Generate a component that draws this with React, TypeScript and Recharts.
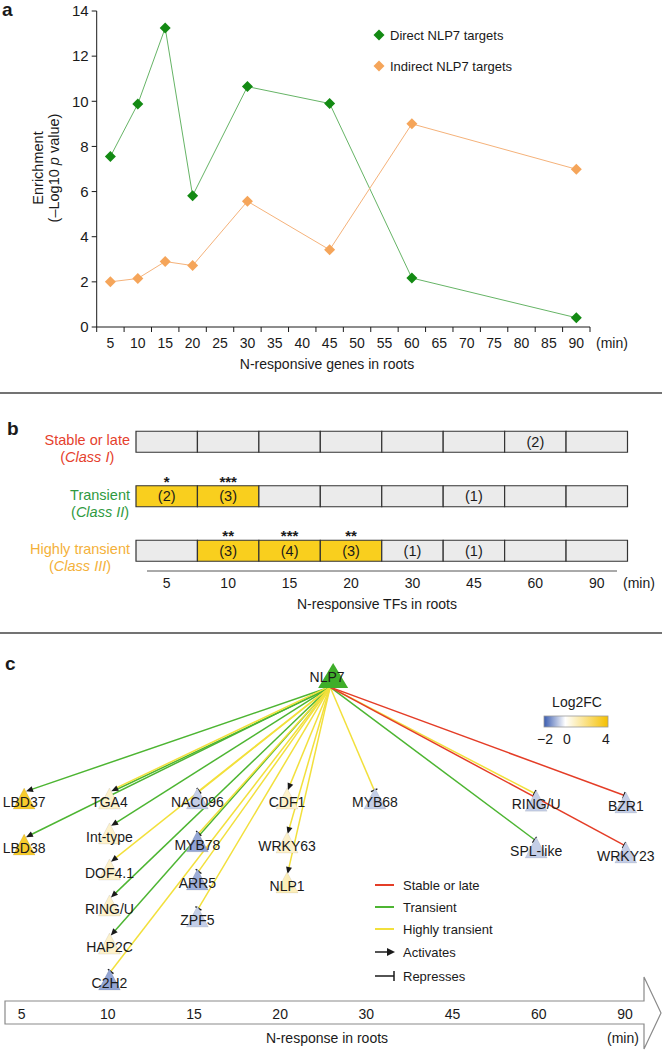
import {
  Bar,
  BarChart,
  Cell,
  LabelList,
  Line,
  LineChart,
  ReferenceLine,
  Scatter,
  ScatterChart,
  XAxis,
  YAxis,
} from 'recharts'

const FONT = '"Liberation Sans", Arial, sans-serif'
const INK = '#1a1a1a'

// a: enrichment of NLP7 targets among N-responsive genes
const minutes = [5, 10, 15, 20, 30, 45, 60, 90]
const directTargets = [7.55, 9.88, 13.25, 5.82, 10.65, 9.9, 2.17, 0.41]
const indirectTargets = [2.0, 2.15, 2.9, 2.72, 5.57, 3.42, 9.0, 6.99]
const minuteTicks = [5, 10, 15, 20, 25, 30, 35, 40, 45, 50, 55, 60, 65, 70, 75, 80, 85, 90]
const enrichmentTicks = [0, 2, 4, 6, 8, 10, 12, 14]

// b: N-responsive TFs by class
const tfTimes = ['5', '10', '15', '20', '30', '45', '60', '90']
const classNames = ['Stable or late', 'Transient', 'Highly transient']
const classTags = ['Class I', 'Class II', 'Class III']
const classColors = ['#e5412d', '#2f9a3f', '#f4b13a']
const stableCounts = [null, null, null, null, null, null, 2, null]
const transientCounts = [2, 3, null, null, null, 1, null, null]
const highlyCounts = [null, 3, 4, 3, 1, 1, null, null]
const stableStars = ['', '', '', '', '', '', '', '']
const transientStars = ['*', '***', '', '', '', '', '', '']
const highlyStars = ['', '**', '***', '**', '', '', '', '']

// c: NLP7 network (t = time column index, rank = row within column)
const hub = { name: 'NLP7', t: 3.58, rank: -3.47 }
const tfNames = ['LBD37', 'LBD38', 'TGA4', 'Int-type', 'DOF4.1', 'RING/U', 'HAP2C', 'C2H2', 'NAC096', 'MYB78',
  'ARR5', 'ZPF5', 'CDF1', 'WRKY63', 'NLP1', 'MYB68', 'RING/U', 'SPL-like', 'BZR1', 'WRKY23']
const tfColumn = [0.03, 0.03, 1.02, 1.02, 1.02, 1.02, 1.02, 1.02, 2.04, 2.04,
  2.04, 2.04, 3.08, 3.08, 3.08, 4.1, 5.97, 5.97, 7.01, 7.01]
const tfRank = [0, 1.28, 0, 0.97, 1.97, 2.97, 4.03, 5.03, 0, 1.19,
  2.25, 3.28, 0, 1.22, 2.33, 0, 0.06, 1.36, 0.11, 1.5]
const tfLog2FC = [3.3, 3.3, 0.8, 0.8, 0.8, 0.8, 0.8, -1.1, -0.6, -1.1,
  -1.0, -0.6, 0.8, 0.8, 1.1, -0.6, -0.6, -0.6, -0.6, -0.6]
const tfEdges = [['T'], ['T'], ['T', 'H'], ['T'], ['H'], ['T'], ['T'], ['H'], ['H'], ['H'],
  ['H'], ['H'], ['H'], ['H'], ['H'], ['H'], ['H'], ['T'], ['S'], ['S']]
const responseTimes = ['5', '10', '15', '20', '30', '45', '60', '90']

const EDGE_COLOR: Record<string, string> = { S: '#e43d27', T: '#4db532', H: '#f2e03c' }

const ctx = typeof document !== 'undefined' ? document.createElement('canvas').getContext('2d') : null
function textWidth(s: string, size: number, italic = false) {
  if (!ctx) return s.length * size * 0.55
  ctx.font = `${italic ? 'italic ' : ''}${size}px ${FONT}`
  return ctx.measureText(s).width
}

function fcColor(v: number) {
  const [c, f] = v < 0 ? [[58, 92, 176], Math.min(-v / 2, 1)] : [[245, 192, 0], Math.min(v / 4, 1)]
  const mix = (c as number[]).map((ch) => Math.round(255 + (ch - 255) * (f as number)))
  return `rgb(${mix.join(',')})`
}

// ---------- a ----------
const A_LEFT = 96.7
const A_RIGHT = 590
const PX_PER_MIN = (A_RIGHT - A_LEFT) / 90

function MinuteTick({ x = 0, y = 0, payload }: any) {
  const half = 2.5 * PX_PER_MIN
  return (
    <g>
      <line x1={x - half} x2={x - half} y1={y} y2={y + 5} stroke={INK} />
      {payload.value === 90 && <line x1={x + half} x2={x + half} y1={y} y2={y + 5} stroke={INK} />}
      <text x={x} y={y + 16} dy="0.35em" textAnchor="middle" fontSize={14} fill={INK} fontFamily={FONT}>
        {payload.value}
      </text>
    </g>
  )
}

function Diamond({ cx = 0, cy = 0, fill }: any) {
  const r = 5.5
  return <polygon points={`${cx},${cy - r} ${cx + r},${cy} ${cx},${cy + r} ${cx - r},${cy}`} fill={fill} />
}

function EnrichmentChart() {
  const data = minutes.map((m, i) => ({ min: m, direct: directTargets[i], indirect: indirectTargets[i] }))
  return (
    <LineChart width={662} height={392} data={data} margin={{ top: 11, right: 662 - A_RIGHT, left: A_LEFT - 40, bottom: 35 }}>
      <XAxis
        type="number"
        dataKey="min"
        domain={[2.5, 92.5]}
        ticks={minuteTicks}
        interval={0}
        height={30}
        tickSize={0}
        tickMargin={0}
        tickLine={false}
        axisLine={{ stroke: INK }}
        tick={<MinuteTick />}
      />
      <YAxis
        width={40}
        domain={[0, 14]}
        ticks={enrichmentTicks}
        interval={0}
        tickSize={5}
        tickMargin={3}
        tickLine={{ stroke: INK }}
        axisLine={{ stroke: INK }}
        tick={{ fontSize: 15, fill: INK, fontFamily: FONT }}
      />
      <Line
        type="linear"
        dataKey="direct"
        stroke="#66b466"
        strokeWidth={1}
        dot={(p: any) => <Diamond key={`d${p.index}`} cx={p.cx} cy={p.cy} fill="#138a13" />}
        isAnimationActive={false}
      />
      <Line
        type="linear"
        dataKey="indirect"
        stroke="#f5b27a"
        strokeWidth={1}
        dot={(p: any) => <Diamond key={`i${p.index}`} cx={p.cx} cy={p.cy} fill="#f5a55a" />}
        isAnimationActive={false}
      />
    </LineChart>
  )
}

// ---------- b ----------
const classCounts = [stableCounts, transientCounts, highlyCounts]
const classStars = [stableStars, transientStars, highlyStars]

function ClassTick({ x = 0, y = 0, payload }: any) {
  const i = classNames.indexOf(payload.value)
  const w = textWidth(classNames[i], 14.5)
  const mid = x - w / 2
  return (
    <g fontFamily={FONT} fontSize={14.5}>
      <text x={x} y={y - 1.5} dy="0.35em" textAnchor="end" fill={classColors[i]}>{classNames[i]}</text>
      <text x={mid} y={y + 15.5} dy="0.35em" textAnchor="middle" fill={classColors[i]}>
        (<tspan fontStyle="italic">{classTags[i]}</tspan>)
      </text>
    </g>
  )
}

function TimeTick({ x = 0, y = 0, payload }: any) {
  return (
    <text x={x} y={y + 5.3} dy="0.35em" textAnchor="middle" fontSize={14} fill={INK} fontFamily={FONT}>
      {tfTimes[Math.floor(payload.value)]}
    </text>
  )
}

function ClassChart() {
  const rows = classNames.map((name) => ({
    name,
    ...Object.fromEntries(tfTimes.map((_, j) => [`s${j}`, 1])),
  }))
  return (
    <BarChart layout="vertical" width={662} height={220} data={rows} margin={{ top: 22.25, right: 34.5, left: 0, bottom: 4.25 }}>
      <XAxis
        type="number"
        domain={[0, 8]}
        ticks={tfTimes.map((_, j) => j + 0.5)}
        interval={0}
        height={30}
        tickSize={0}
        tickMargin={0}
        axisLine={false}
        tickLine={false}
        tick={<TimeTick />}
      />
      <YAxis type="category" dataKey="name" width={136} axisLine={false} tickLine={false} tickSize={0} tickMargin={6} tick={<ClassTick />} />
      {tfTimes.map((_, j) => (
        <Bar key={j} dataKey={`s${j}`} stackId="row" barSize={21} stroke="#333" strokeWidth={1.2} isAnimationActive={false}>
          {rows.map((_, i) => (
            <Cell key={i} fill={classStars[i][j] ? '#f9cf1e' : '#ebebeb'} />
          ))}
          <LabelList
            dataKey={`s${j}`}
            content={(p: any) => {
              const vb = p.viewBox ?? p
              const i = p.index
              const n = classCounts[i][j]
              const s = classStars[i][j]
              const cx = vb.x + vb.width / 2
              return (
                <g key={`${i}-${j}`} fontFamily={FONT} fill={INK}>
                  {n != null && (
                    <text x={cx} y={vb.y + vb.height / 2} dy="0.35em" textAnchor="middle" fontSize={14.5} fill={INK}>
                      ({n})
                    </text>
                  )}
                  {s && (
                    <text x={cx} y={vb.y + 1} textAnchor="middle" fontSize={15} fontWeight="bold" fill={INK}>
                      {s}
                    </text>
                  )}
                </g>
              )
            }}
          />
        </Bar>
      ))}
    </BarChart>
  )
}

// ---------- c ----------
function Edge({ x1 = 0, y1 = 0, x2 = 0, y2 = 0, kinds, represses }: any) {
  const sx = x1
  const sy = y1 + 10
  let ex = x2
  let ey = y2 - 10
  const len = Math.hypot(ex - sx, ey - sy)
  const ux = (ex - sx) / len
  const uy = (ey - sy) / len
  ex -= ux * 2
  ey -= uy * 2
  const nx = -uy
  const ny = ux
  const head = represses ? 0 : 6
  return (
    <g>
      {kinds.map((k: string, i: number) => {
        const o = (i - (kinds.length - 1) / 2) * 1.6
        return (
          <line
            key={k}
            x1={sx + nx * o}
            y1={sy + ny * o}
            x2={ex - ux * head + nx * o}
            y2={ey - uy * head + ny * o}
            stroke={EDGE_COLOR[k]}
            strokeWidth={1.5}
          />
        )
      })}
      {represses ? (
        <line x1={ex + nx * 3.5} y1={ey + ny * 3.5} x2={ex - nx * 3.5} y2={ey - ny * 3.5} stroke={INK} strokeWidth={1.3} />
      ) : (
        <polygon
          points={`${ex},${ey} ${ex - ux * 7 + nx * 3},${ey - uy * 7 + ny * 3} ${ex - ux * 7 - nx * 3},${ey - uy * 7 - ny * 3}`}
          fill={INK}
        />
      )}
    </g>
  )
}

function TfNode({ cx = 0, cy = 0, payload }: any) {
  return (
    <g>
      <polygon
        points={`${cx},${cy - 14} ${cx + 11},${cy + 7} ${cx - 11},${cy + 7}`}
        fill={fcColor(payload.fc)}
        stroke="rgba(0,0,0,0.12)"
        strokeWidth={0.6}
      />
      <text x={cx} y={cy} dy="0.36em" textAnchor="middle" fontSize={14} fill={INK} fontFamily={FONT}>
        {payload.name}
      </text>
    </g>
  )
}

function HubNode({ cx = 0, cy = 0, payload }: any) {
  return (
    <g>
      <polygon points={`${cx + 3},${cy - 14} ${cx + 18},${cy + 11} ${cx - 12},${cy + 11}`} fill="#3fae2a" />
      <text x={cx - 3} y={cy} dy="0.36em" textAnchor="middle" fontSize={14} fill={INK} fontFamily={FONT}>
        {payload.name}
      </text>
    </g>
  )
}

function ResponseTick({ x = 0, y = 0, payload }: any) {
  return (
    <text x={x} y={y + 14} dy="0.35em" textAnchor="middle" fontSize={14} fill={INK} fontFamily={FONT}>
      {responseTimes[payload.value]}
    </text>
  )
}

function NetworkChart() {
  const nodes = tfNames.map((name, i) => ({ name, t: tfColumn[i], rank: tfRank[i], fc: tfLog2FC[i] }))
  return (
    <ScatterChart width={662} height={428} margin={{ top: 0, right: 0, left: 0, bottom: 0 }}>
      <XAxis
        type="number"
        dataKey="t"
        domain={[-0.25, 7.43]}
        ticks={responseTimes.map((_, j) => j)}
        interval={0}
        height={50}
        tickSize={0}
        tickMargin={0}
        axisLine={false}
        tickLine={false}
        allowDataOverflow
        tick={<ResponseTick />}
      />
      <YAxis type="number" dataKey="rank" domain={[-5, 5.5]} reversed hide allowDataOverflow />
      {nodes.map((n, i) => (
        <ReferenceLine
          key={i}
          segment={[{ x: hub.t, y: hub.rank }, { x: n.t, y: n.rank }]}
          ifOverflow="visible"
          shape={(p: any) => <Edge {...p} kinds={tfEdges[i]} represses={n.fc < 0} />}
        />
      ))}
      <Scatter data={nodes} shape={(p: any) => <TfNode {...p} />} isAnimationActive={false} />
      <Scatter data={[hub]} shape={(p: any) => <HubNode {...p} />} isAnimationActive={false} />
    </ScatterChart>
  )
}

function Annotations() {
  const t = { fontFamily: FONT, fill: INK }
  const edgeLegend = [
    ['Stable or late', 'S', 885],
    ['Transient', 'T', 907],
    ['Highly transient', 'H', 929],
  ] as const
  return (
    <svg style={{ position: 'absolute', left: 0, top: 0, pointerEvents: 'none' }} width={662} height={1050}>
      <defs>
        <linearGradient id="fc" x1="0" x2="1" y1="0" y2="0">
          <stop offset="0%" stopColor="rgb(58,92,176)" />
          <stop offset="33.3%" stopColor="#ffffff" />
          <stop offset="100%" stopColor="rgb(245,192,0)" />
        </linearGradient>
      </defs>
      {/* a */}
      <text x={2} y={16} fontSize={19} fontWeight="bold" {...t}>a</text>
      <text transform="translate(43,168) rotate(-90)" textAnchor="middle" fontSize={14.5} {...t}>Enrichment</text>
      <text transform="translate(59,168) rotate(-90)" textAnchor="middle" fontSize={14.5} {...t}>
        (–Log10 <tspan fontStyle="italic">p</tspan> value)
      </text>
      <Diamond cx={379} cy={35} fill="#138a13" />
      <text x={390} y={35} dy="0.35em" fontSize={13} {...t}>Direct NLP7 targets</text>
      <Diamond cx={379} cy={66} fill="#f5a55a" />
      <text x={390} y={66} dy="0.35em" fontSize={13} {...t}>Indirect NLP7 targets</text>
      <text x={612} y={343} dy="0.35em" textAnchor="middle" fontSize={14} {...t}>(min)</text>
      <text x={327} y={364} dy="0.35em" textAnchor="middle" fontSize={14} {...t}>N-responsive genes in roots</text>
      <line x1={0} x2={662} y1={393} y2={393} stroke="#444" strokeWidth={1.5} />
      {/* b */}
      <text x={7} y={435} fontSize={19} fontWeight="bold" {...t}>b</text>
      <line x1={147} x2={617} y1={571} y2={571} stroke="#555" strokeWidth={1} />
      <text x={639} y={583} dy="0.35em" textAnchor="middle" fontSize={14} {...t}>(min)</text>
      <text x={377} y={604} dy="0.35em" textAnchor="middle" fontSize={14} {...t}>N-responsive TFs in roots</text>
      <line x1={0} x2={662} y1={633} y2={633} stroke="#444" strokeWidth={1.5} />
      {/* c */}
      <text x={5} y={670} fontSize={19} fontWeight="bold" {...t}>c</text>
      <text x={577} y={702} dy="0.35em" textAnchor="middle" fontSize={14} {...t}>Log2FC</text>
      <rect x={544} y={716} width={64} height={11} fill="url(#fc)" stroke="#999" strokeWidth={0.8} />
      <text x={545} y={739} dy="0.35em" textAnchor="middle" fontSize={14} {...t}>−2</text>
      <text x={567} y={739} dy="0.35em" textAnchor="middle" fontSize={14} {...t}>0</text>
      <text x={606} y={739} dy="0.35em" textAnchor="middle" fontSize={14} {...t}>4</text>
      {edgeLegend.map(([label, k, y]) => (
        <g key={k}>
          <line x1={375} x2={394} y1={y} y2={y} stroke={EDGE_COLOR[k]} strokeWidth={2} />
          <text x={403} y={y} dy="0.35em" fontSize={13} {...t}>{label}</text>
        </g>
      ))}
      <line x1={375} x2={388} y1={952} y2={952} stroke={INK} strokeWidth={1.5} />
      <polygon points="395,952 387,948 387,956" fill={INK} />
      <text x={403} y={952} dy="0.35em" fontSize={13} {...t}>Activates</text>
      <line x1={375} x2={394} y1={976} y2={976} stroke={INK} strokeWidth={1.5} />
      <line x1={394} x2={394} y1={971} y2={981} stroke={INK} strokeWidth={1.5} />
      <text x={403} y={976} dy="0.35em" fontSize={13} {...t}>Represses</text>
      <text x={327} y={1038} dy="0.35em" textAnchor="middle" fontSize={14} {...t}>N-response in roots</text>
      <text x={623} y={1038} dy="0.35em" textAnchor="middle" fontSize={14} {...t}>(min)</text>
    </svg>
  )
}

export default function App() {
  return (
    <div style={{ position: 'absolute', left: 0, top: 0, width: 662, height: 1050, background: '#fff', overflow: 'hidden' }}>
      <svg style={{ position: 'absolute', left: 0, top: 0 }} width={662} height={1050}>
        <polygon
          points="5,1001 644,1001 644,977 661,1013 644,1049 644,1024 5,1024"
          fill="#fff"
          stroke="#8a8a8a"
          strokeWidth={1.2}
        />
      </svg>
      <div style={{ position: 'absolute', left: 0, top: 0 }}>
        <EnrichmentChart />
      </div>
      <div style={{ position: 'absolute', left: 0, top: 392 }}>
        <ClassChart />
      </div>
      <div style={{ position: 'absolute', left: 0, top: 622 }}>
        <NetworkChart />
      </div>
      <Annotations />
    </div>
  )
}
